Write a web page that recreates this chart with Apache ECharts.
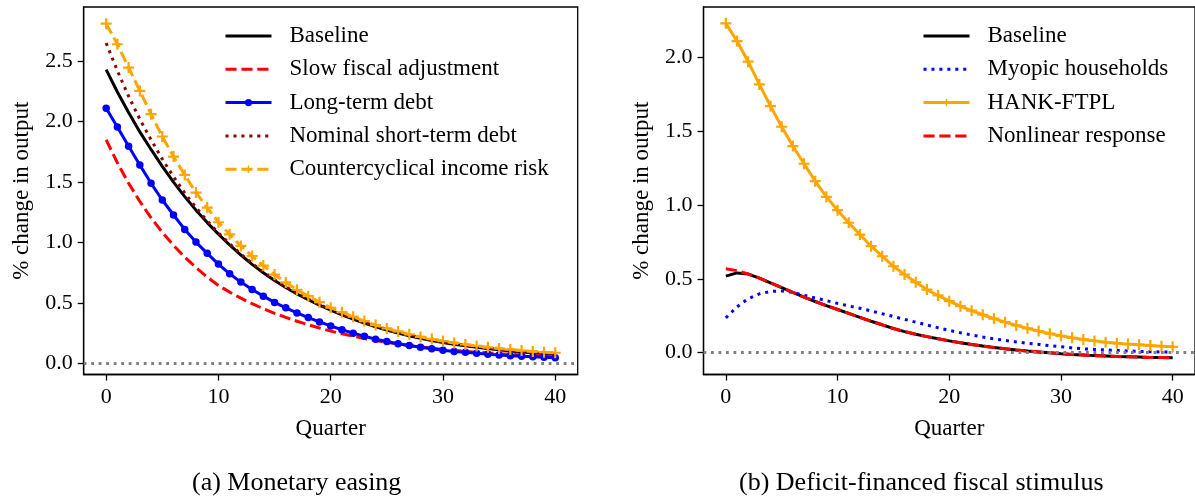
<!DOCTYPE html>
<html>
<head>
<meta charset="utf-8">
<script src="https://cdn.jsdelivr.net/npm/echarts@6/dist/echarts.min.js"></script>
<style>
html,body{margin:0;padding:0;background:#fff;}
#chart{width:1195px;height:500px;}
</style>
</head>
<body>
<div id="chart"></div>
<script>
// ---------------- data ----------------
const QUARTERS = [0,1,2,3,4,5,6,7,8,9,10,11,12,13,14,15,16,17,18,19,20,21,22,23,24,25,26,27,28,29,30,31,32,33,34,35,36,37,38,39,40];
const X_TICKS = [0,10,20,30,40];
const Y_TICKS_A = [0,0.5,1.0,1.5,2.0,2.5];
const Y_TICKS_B = [0,0.5,1.0,1.5,2.0];

// (a) Monetary easing
const A_BASELINE = [2.43,2.245,2.075,1.915,1.77,1.63,1.50,1.38,1.268,1.165,1.07,0.98,0.897,0.82,0.75,0.686,0.628,0.575,0.527,0.482,0.441,0.403,0.367,0.334,0.304,0.277,0.252,0.230,0.209,0.190,0.173,0.159,0.146,0.134,0.123,0.113,0.104,0.096,0.088,0.081,0.075];
const A_SLOW = [1.85,1.66,1.49,1.34,1.205,1.085,0.977,0.88,0.793,0.715,0.645,0.59,0.54,0.495,0.453,0.415,0.381,0.349,0.32,0.293,0.268,0.246,0.226,0.207,0.19,0.175,0.161,0.148,0.136,0.126,0.116,0.108,0.1,0.093,0.087,0.081,0.076,0.071,0.067,0.063,0.059];
const A_LONG = [2.11,1.956,1.796,1.642,1.49,1.352,1.228,1.109,1.004,0.911,0.822,0.742,0.673,0.612,0.557,0.505,0.46,0.418,0.38,0.344,0.311,0.279,0.251,0.226,0.201,0.182,0.163,0.149,0.135,0.122,0.11,0.1,0.092,0.084,0.077,0.071,0.065,0.06,0.055,0.051,0.047];
const A_NOMINAL = [2.65,2.42,2.21,2.02,1.85,1.69,1.545,1.41,1.29,1.18,1.08,0.99,0.905,0.828,0.758,0.693,0.635,0.582,0.533,0.488,0.447,0.409,0.373,0.34,0.31,0.283,0.258,0.235,0.214,0.195,0.178,0.163,0.15,0.138,0.127,0.117,0.108,0.099,0.091,0.084,0.077];
const A_COUNTER = [2.81,2.64,2.447,2.254,2.062,1.877,1.711,1.559,1.413,1.289,1.168,1.068,0.972,0.888,0.81,0.735,0.67,0.61,0.557,0.507,0.461,0.424,0.387,0.351,0.318,0.29,0.265,0.241,0.22,0.202,0.185,0.17,0.157,0.145,0.134,0.124,0.115,0.107,0.1,0.094,0.089];

// (b) Deficit-financed fiscal stimulus
const B_BASELINE = [0.518,0.54,0.532,0.505,0.472,0.44,0.408,0.376,0.346,0.318,0.292,0.265,0.238,0.212,0.188,0.163,0.142,0.124,0.108,0.093,0.079,0.067,0.055,0.044,0.034,0.025,0.017,0.01,0.004,-0.002,-0.008,-0.013,-0.017,-0.021,-0.024,-0.027,-0.029,-0.031,-0.033,-0.034,-0.035];
const B_MYOPIC = [0.235,0.31,0.365,0.398,0.414,0.418,0.408,0.388,0.37,0.352,0.333,0.316,0.3,0.282,0.263,0.244,0.225,0.206,0.187,0.168,0.15,0.134,0.119,0.105,0.093,0.082,0.072,0.063,0.055,0.047,0.04,0.031,0.025,0.021,0.018,0.014,0.011,0.008,0.006,0.004,0.003];
const B_HANK = [2.232,2.112,1.972,1.818,1.671,1.531,1.40,1.28,1.162,1.056,0.965,0.88,0.80,0.721,0.653,0.585,0.529,0.477,0.427,0.387,0.348,0.314,0.284,0.256,0.23,0.206,0.184,0.164,0.146,0.128,0.113,0.1,0.089,0.079,0.07,0.063,0.057,0.052,0.047,0.043,0.039];
const B_NONLINEAR = [0.568,0.555,0.533,0.505,0.472,0.44,0.408,0.376,0.346,0.318,0.292,0.265,0.238,0.212,0.188,0.163,0.142,0.124,0.108,0.093,0.079,0.067,0.055,0.044,0.034,0.025,0.017,0.01,0.004,-0.002,-0.008,-0.013,-0.017,-0.021,-0.024,-0.027,-0.029,-0.031,-0.033,-0.034,-0.035];

const NAMES_A = ['Baseline','Slow fiscal adjustment','Long-term debt','Nominal short-term debt','Countercyclical income risk'];
const NAMES_B = ['Baseline','Myopic households','HANK-FTPL','Nonlinear response'];
const Y_NAME = '% change in output';
const X_NAME = 'Quarter';
const CAPTION_A = '(a) Monetary easing';
const CAPTION_B = '(b) Deficit-financed fiscal stimulus';

// ---------------- chart ----------------
const FONT = 'Liberation Serif';
const PLUS = 'path://M4,0H6V4H10V6H6V10H4V6H0V4H4Z';
const LW = 3;
const DASHED = [11.1, 4.8];
const DOTTED = [3, 4.95];
const pairs = ys => QUARTERS.map((q, i) => [q, ys[i]]);

function xAxis(gi) {
  return {
    type: 'value', gridIndex: gi, min: -2, max: 42,
    name: X_NAME, nameLocation: 'middle', nameGap: 43,
    nameTextStyle: {fontFamily: FONT, fontSize: 23, color: '#000'},
    axisLine: {show: true, onZero: false, lineStyle: {color: '#000', width: 1.3}},
    axisTick: {show: true, length: 6, customValues: X_TICKS, lineStyle: {color: '#000', width: 1.3}},
    axisLabel: {customValues: X_TICKS, margin: 12, fontFamily: FONT, fontSize: 22, color: '#000'},
    splitLine: {show: false}
  };
}
function yAxis(gi, min, max, ticks) {
  return {
    type: 'value', gridIndex: gi, min: min, max: max,
    name: Y_NAME, nameLocation: 'middle', nameGap: 50, nameRotate: 90,
    nameTextStyle: {fontFamily: FONT, fontSize: 23, color: '#000'},
    axisLine: {show: true, onZero: false, lineStyle: {color: '#000', width: 1.3}},
    axisTick: {show: true, length: 6, customValues: ticks, lineStyle: {color: '#000', width: 1.3}},
    axisLabel: {customValues: ticks, margin: 11, fontFamily: FONT, fontSize: 22, color: '#000',
      formatter: v => Number(v).toFixed(1)},
    splitLine: {show: false}
  };
}
function line(name, gi, ys, color, opts) {
  return Object.assign({
    type: 'line', name: name, xAxisIndex: gi, yAxisIndex: gi,
    data: pairs(ys), smooth: false,
    symbol: opts.symbol || 'circle', symbolSize: opts.symbolSize || 0, showSymbol: !!opts.symbol,
    lineStyle: {color: color, width: LW, type: opts.dash || 'solid'},
    itemStyle: {color: color},
    emphasis: {disabled: true}, z: 2
  }, opts.extra || {});
}
const zeroLine = {
  silent: true, symbol: 'none', label: {show: false},
  lineStyle: {color: '#808080', width: 2.8, type: [2.8, 4.7]},
  data: [{yAxis: 0}]
};
// legend entries: hide the symbol for series drawn without markers
const legendItem = (name, hasMarker) => hasMarker ? {name: name} : {name: name, itemStyle: {opacity: 0}};
const legendBase = {
  orient: 'vertical', top: 24.5, padding: 0,
  itemWidth: 46, itemHeight: 9, itemGap: 10.3,
  lineStyle: {width: 3},
  textStyle: {fontFamily: FONT, fontSize: 23, color: '#000', padding: [0, 0, 0, 13]},
  selectedMode: false
};

const chart = echarts.init(document.getElementById('chart'), null, {renderer: 'canvas'});
chart.setOption({
  animation: false,
  backgroundColor: '#fff',
  grid: [
    {left: 83.7, top: 7, width: 494, height: 367.5, show: true, borderColor: '#000', borderWidth: 1.3, backgroundColor: 'transparent'},
    {left: 703.5, top: 7, width: 495, height: 367.5, show: true, borderColor: '#000', borderWidth: 1.3, backgroundColor: 'transparent'}
  ],
  xAxis: [xAxis(0), xAxis(1)],
  yAxis: [yAxis(0, -0.091, 2.948, Y_TICKS_A), yAxis(1, -0.149, 2.343, Y_TICKS_B)],
  legend: [
    Object.assign({}, legendBase, {left: 224, data: [
      legendItem(NAMES_A[0], false), legendItem(NAMES_A[1], false), legendItem(NAMES_A[2], true),
      legendItem(NAMES_A[3], false), legendItem(NAMES_A[4], true)]}),
    Object.assign({}, legendBase, {left: 922, data: [
      legendItem(NAMES_B[0], false), legendItem(NAMES_B[1], false), legendItem(NAMES_B[2], true),
      legendItem(NAMES_B[3], false)]})
  ],
  series: [
    line(NAMES_A[0], 0, A_BASELINE, '#000000', {extra: {markLine: zeroLine}}),
    line(NAMES_A[1], 0, A_SLOW, '#ff0000', {dash: DASHED}),
    line(NAMES_A[2], 0, A_LONG, '#0000ff', {symbol: 'circle', symbolSize: 7.5}),
    line(NAMES_A[3], 0, A_NOMINAL, '#8b0000', {dash: DOTTED}),
    line(NAMES_A[4], 0, A_COUNTER, '#ffa500', {dash: DASHED, symbol: PLUS, symbolSize: 11}),

    line(NAMES_B[0], 1, B_BASELINE, '#000000', {extra: {markLine: zeroLine}}),
    line(NAMES_B[1], 1, B_MYOPIC, '#0000ff', {dash: DOTTED}),
    line(NAMES_B[2], 1, B_HANK, '#ffa500', {symbol: PLUS, symbolSize: 11}),
    line(NAMES_B[3], 1, B_NONLINEAR, '#ff0000', {dash: DASHED})
  ],
  graphic: [
    {type: 'text', left: 192, top: 470, style: {text: CAPTION_A, font: '26px "Liberation Serif"', fill: '#000'}},
    {type: 'text', left: 739, top: 470, style: {text: CAPTION_B, font: '26px "Liberation Serif"', fill: '#000'}}
  ]
});
</script>
</body>
</html>
